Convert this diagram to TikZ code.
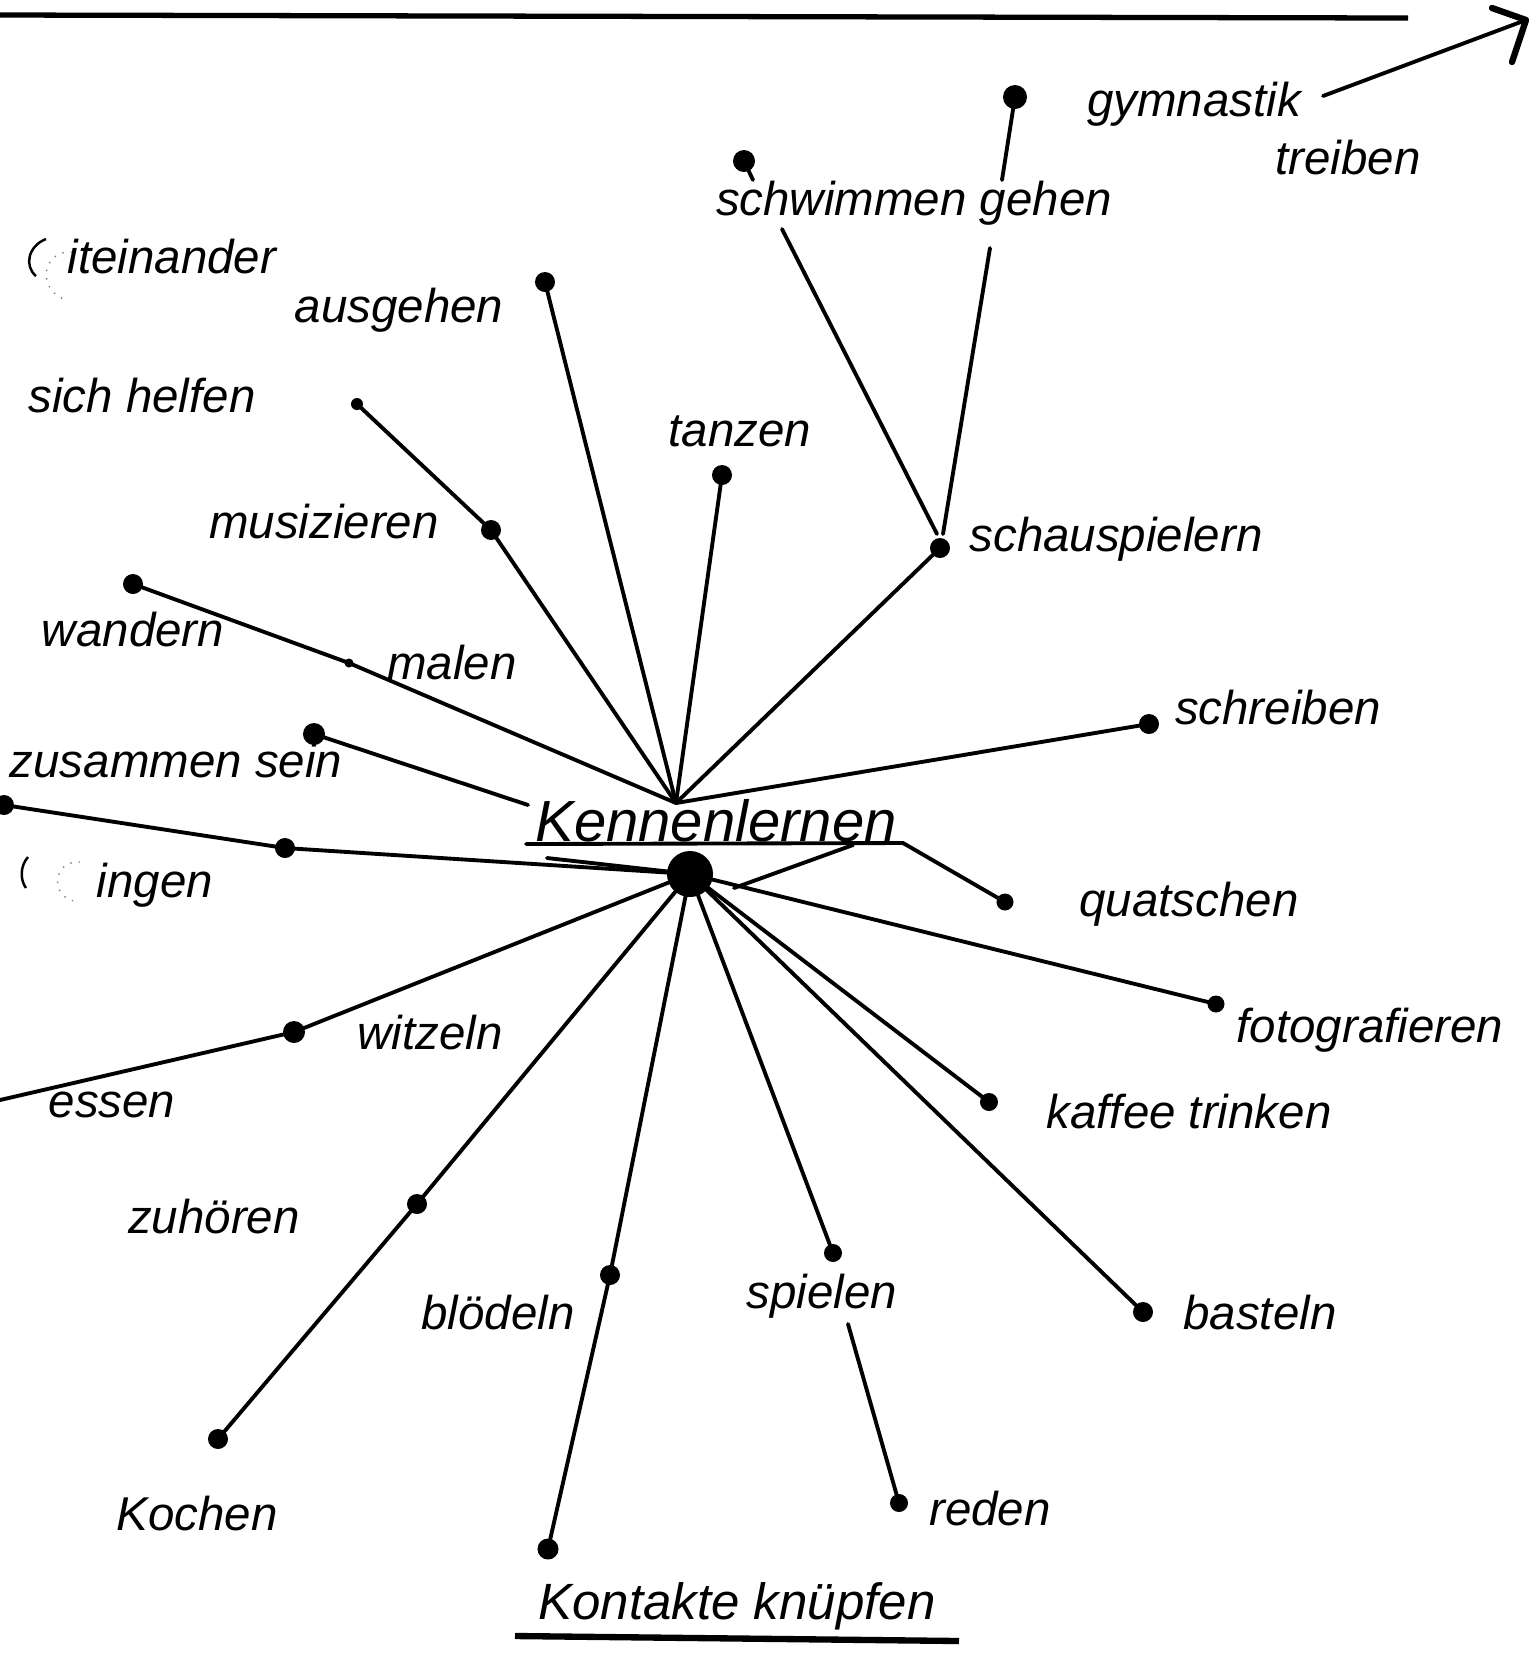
\documentclass[tikz,border=0pt]{standalone}
\usepackage{fontspec}
\setmainfont{Liberation Sans}
\begin{document}
\begin{tikzpicture}[x=0.01cm,y=-0.01cm,
  ln/.style={line width=1.1pt,line cap=round},
  dot/.style={circle,fill=black,inner sep=0pt,minimum size=0.2cm},
  smalldot/.style={circle,fill=black,inner sep=0pt,minimum size=0.1cm},
  bigdot/.style={circle,fill=black,inner sep=0pt,minimum size=0.46cm},
  faint/.style={line width=0.4pt,gray,dotted},
  lbl/.style={inner sep=0pt,font=\fontsize{13.5}{16}\selectfont\itshape},
  biglbl/.style={inner sep=0pt,font=\fontsize{16.5}{19}\selectfont\itshape}]
\useasboundingbox (0,0) rectangle (1534,1656);

% top line and arrow
\coordinate (tl) at (0,15);
\coordinate (tr) at (1408,18);
\draw[line width=1.5pt] (tl) -- (tr);
\coordinate (gymEnd) at (1323,96);
\coordinate (tip) at (1526,20);
\coordinate (armA) at (1492,8);
\coordinate (armB) at (1512,62);
\draw[ln] (gymEnd) -- (tip);
\draw[line width=1.8pt,line cap=round,line join=round] (armA) -- (tip) -- (armB);

% dots
\node[dot,minimum width=0.19cm,minimum height=0.24cm] (gym) at (1015,97) {};
\node[dot,minimum width=0.19cm,minimum height=0.22cm] (schw) at (744,161) {};
\coordinate (schwT) at (753,180);
\node[dot] (ausg) at (545,282) {};
\node[smalldot,minimum size=0.12cm] (sich) at (357,404) {};
\node[dot] (tanz) at (722,475) {};
\node[dot] (musi) at (491,530) {};
\node[dot] (schau) at (940,548) {};
\node[dot] (wand) at (133,584) {};
\node[smalldot,minimum size=0.09cm] (malen) at (349,663) {};
\node[dot] (schreib) at (1149,724) {};
\node[dot,minimum size=0.22cm] (zus) at (314,734) {};
\node[dot,minimum size=0.2cm] (singL) at (4,805) {};
\node[dot] (sing) at (285,848) {};
\node[bigdot] (ctr) at (690,874) {};
\node[dot,minimum size=0.17cm] (quat) at (1005,902) {};
\node[dot,minimum size=0.17cm] (foto) at (1216,1004) {};
\node[dot,minimum size=0.22cm] (witz) at (294,1032) {};
\coordinate (essenEnd) at (0,1100);
\node[dot,minimum size=0.18cm] (kaff) at (989,1102) {};
\node[dot] (zuh) at (417,1204) {};
\node[dot,minimum size=0.18cm] (spiel) at (833,1253) {};
\node[dot] (bloed) at (610,1275) {};
\node[dot] (bast) at (1143,1312) {};
\node[dot] (koch) at (218,1439) {};
\node[dot,minimum size=0.18cm] (reden) at (899,1503) {};
\node[dot,minimum size=0.21cm] (kont) at (548,1549) {};

% junctions
\coordinate (J) at (676,803);
\coordinate (schA) at (782,229);
\coordinate (schB) at (937,534);
\coordinate (gehA) at (990,248);
\coordinate (gehB) at (943,534);
\coordinate (gymT) at (1002,180);
\coordinate (zusEnd) at (528,805);
\coordinate (s1) at (547,858);
\coordinate (r1) at (734,888);
\coordinate (r2) at (853,845);
\coordinate (ul1) at (526,844);
\coordinate (ul2) at (903,843);
\coordinate (redTop) at (848,1324);

% connectors above
\draw[ln] (schw.center) -- (schwT);
\draw[ln] (schA) -- (schB);
\draw[ln] (gehA) -- (gehB);
\draw[ln] (gym.center) -- (gymT);
\draw[ln] (J) -- (schau.center);
\draw[ln] (J) -- (ausg.center);
\draw[ln] (J) -- (tanz.center);
\draw[ln] (J) -- (musi.center) -- (sich.center);
\draw[ln] (J) -- (malen.center) -- (wand.center);
\draw[ln] (J) -- (schreib.center);
\draw[ln] (zus.center) -- (zusEnd);
\draw[ln] (singL.center) -- (sing.center) -- (ctr.center);
\draw[ln] (s1) -- (ctr.center);
\draw[ln] (r1) -- (r2);
\draw[ln] (ul1) -- (ul2) -- (quat.center);

% connectors below
\draw[ln] (ctr.center) -- (foto.center);
\draw[ln] (ctr.center) -- (kaff.center);
\draw[ln] (ctr.center) -- (bast.center);
\draw[ln] (ctr.center) -- (spiel.center);
\draw[ln] (ctr.center) -- (bloed.center) -- (kont.center);
\draw[ln] (ctr.center) -- (zuh.center) -- (koch.center);
\draw[ln] (ctr.center) -- (witz.center) -- (essenEnd);
\draw[ln] (reden.center) -- (redTop);

% labels
\node[lbl] (lgym) at (1194,104) {gymnastik};
\node[lbl] (ltreib) at (1348,158) {treiben};
\node[lbl] (lschw) at (914,203) {schwimmen gehen};
\node[lbl] (lmit) at (172,257) {iteinander};
\draw[line width=0.7pt] (46,239) .. controls (28,246) and (24,266) .. (36,276);
\draw[faint] (72,252) .. controls (42,250) and (36,290) .. (66,300);
\node[lbl] (lausg) at (399,310) {ausgehen};
\node[lbl] (lsich) at (142,396) {sich helfen};
\node[lbl] (ltanz) at (740,431) {tanzen};
\node[lbl] (lmusi) at (324,522) {musizieren};
\node[lbl] (lschau) at (1116,539) {schauspielern};
\node[lbl] (lwand) at (133,630) {wandern};
\node[lbl] (lmalen) at (452,663) {malen};
\node[lbl] (lschreib) at (1278,708) {schreiben};
\node[lbl] (lzus) at (176,761) {zusammen sein};
\node[lbl] (lsing) at (155,885) {ingen};
\draw[line width=0.7pt] (28,857) .. controls (20,866) and (20,880) .. (26,888);
\draw[faint] (80,862) .. controls (52,860) and (48,900) .. (80,902);
\node[biglbl] (lkenn) at (716,821) {Kennenlernen};
\node[lbl] (lquat) at (1189,904) {quatschen};
\node[lbl] (lfoto) at (1370,1030) {fotografieren};
\node[lbl] (lwitz) at (430,1033) {witzeln};
\node[lbl] (lessen) at (112,1105) {essen};
\node[lbl] (lkaff) at (1189,1112) {kaffee trinken};
\node[lbl] (lzuh) at (214,1217) {zuhören};
\node[lbl] (lbloed) at (498,1313) {blödeln};
\node[lbl] (lspiel) at (822,1296) {spielen};
\node[lbl] (lbast) at (1260,1313) {basteln};
\node[lbl] (lkoch) at (197,1514) {Kochen};
\node[lbl] (lreden) at (990,1509) {reden};
\node[lbl,font=\fontsize{14.5}{17}\selectfont\itshape] (lkont) at (737,1606) {Kontakte knüpfen};
\coordinate (kul1) at (515,1636);
\coordinate (kul2) at (959,1641);
\draw[line width=1.8pt] (kul1) -- (kul2);
\end{tikzpicture}
\end{document}
